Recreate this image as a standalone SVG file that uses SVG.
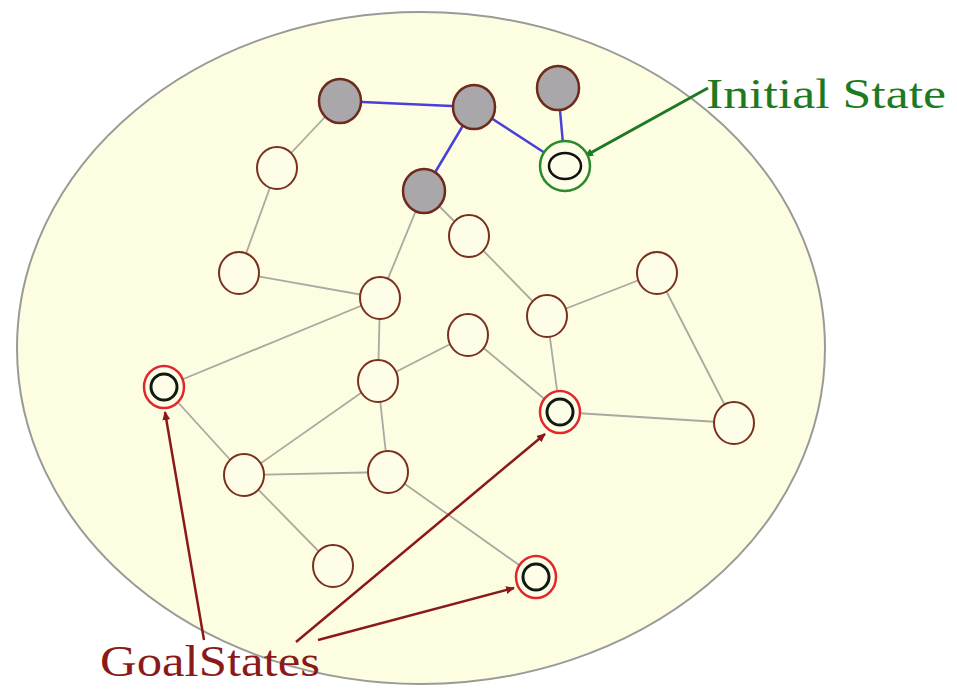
<svg xmlns="http://www.w3.org/2000/svg" width="957" height="689" viewBox="0 0 957 689">
  <style>
    .state { fill: #fefee8; stroke: #7a3020; stroke-width: 2; }
    .visited { fill: #a9a7aa; stroke: #6e2a1c; stroke-width: 2.5; }
    .edge { stroke: #aaa9a0; stroke-width: 1.8; fill: none; }
    .path { stroke: #4a40d8; stroke-width: 2.5; fill: none; }
    .goal-outer { fill: #fefee8; stroke: #e0282c; stroke-width: 2.5; }
    .goal-inner { fill: #fefee8; stroke: #101a10; stroke-width: 3; }
    .label { font-family: "Liberation Serif", "Times New Roman", serif; }
  </style>
  <defs>
    <marker id="arrowGreen" markerWidth="10" markerHeight="10" refX="8" refY="5" orient="auto" markerUnits="userSpaceOnUse">
      <path d="M0,1 L9,5 L0,9 Z" fill="#1e7a22"/>
    </marker>
    <marker id="arrowRed" markerWidth="10" markerHeight="10" refX="8" refY="5" orient="auto" markerUnits="userSpaceOnUse">
      <path d="M0,1 L9,5 L0,9 Z" fill="#8a1a1a"/>
    </marker>
  </defs>

  <!-- state space -->
  <ellipse id="space" cx="421" cy="348" rx="404" ry="336" fill="#fdfde2" stroke="#9a9a96" stroke-width="2"/>

  <g id="connectors">
    <line class="edge" x1="340" y1="101" x2="277" y2="168"/>
    <line class="edge" x1="277" y1="168" x2="239" y2="273"/>
    <line class="edge" x1="239" y1="273" x2="380" y2="298"/>
    <line class="edge" x1="424" y1="191" x2="380" y2="298"/>
    <line class="edge" x1="424" y1="191" x2="469" y2="236"/>
    <line class="edge" x1="469" y1="236" x2="547" y2="316"/>
    <line class="edge" x1="547" y1="316" x2="657" y2="273"/>
    <line class="edge" x1="657" y1="273" x2="734" y2="423"/>
    <line class="edge" x1="547" y1="316" x2="560" y2="412"/>
    <line class="edge" x1="560" y1="412" x2="734" y2="423"/>
    <line class="edge" x1="468" y1="335" x2="560" y2="412"/>
    <line class="edge" x1="468" y1="335" x2="378" y2="381"/>
    <line class="edge" x1="380" y1="298" x2="378" y2="381"/>
    <line class="edge" x1="380" y1="298" x2="164" y2="387"/>
    <line class="edge" x1="164" y1="387" x2="244" y2="475"/>
    <line class="edge" x1="244" y1="475" x2="378" y2="381"/>
    <line class="edge" x1="244" y1="475" x2="388" y2="472"/>
    <line class="edge" x1="378" y1="381" x2="388" y2="472"/>
    <line class="edge" x1="244" y1="475" x2="333" y2="566"/>
    <line class="edge" x1="388" y1="472" x2="536" y2="577"/>

    <line class="path" x1="340" y1="101" x2="474" y2="107"/>
    <line class="path" x1="474" y1="107" x2="424" y2="191"/>
    <line class="path" x1="474" y1="107" x2="565" y2="166"/>
    <line class="path" x1="558" y1="88" x2="565" y2="166"/>

    <line x1="708" y1="88" x2="585" y2="156" stroke="#1e7a22" stroke-width="3" marker-end="url(#arrowGreen)"/>
    <line x1="204" y1="640" x2="165" y2="412" stroke="#8a1a1a" stroke-width="2.5" marker-end="url(#arrowRed)"/>
    <line x1="296" y1="642" x2="545" y2="434" stroke="#8a1a1a" stroke-width="2.5" marker-end="url(#arrowRed)"/>
    <line x1="318" y1="640" x2="514" y2="588" stroke="#8a1a1a" stroke-width="2.5" marker-end="url(#arrowRed)"/>
  </g>

  <!-- explored states -->
  <g id="n-a"><ellipse class="visited" cx="340" cy="101" rx="21" ry="22"/></g>
  <g id="n-b"><ellipse class="visited" cx="474" cy="107" rx="21" ry="22"/></g>
  <g id="n-c"><ellipse class="visited" cx="558" cy="88" rx="21" ry="22"/></g>
  <g id="n-d"><ellipse class="visited" cx="424" cy="191" rx="21" ry="22"/></g>

  <!-- initial state -->
  <g id="n-initial">
    <ellipse cx="565" cy="166" rx="25" ry="25" fill="#fefee8" stroke="#2a8a2a" stroke-width="2.5"/>
    <ellipse cx="565" cy="166" rx="16" ry="13" fill="#fefee8" stroke="#111" stroke-width="2.5"/>
  </g>

  <!-- other states -->
  <g id="n-e"><ellipse class="state" cx="277" cy="168" rx="20" ry="21"/></g>
  <g id="n-f"><ellipse class="state" cx="469" cy="236" rx="20" ry="21"/></g>
  <g id="n-g"><ellipse class="state" cx="239" cy="273" rx="20" ry="21"/></g>
  <g id="n-h"><ellipse class="state" cx="380" cy="298" rx="20" ry="21"/></g>
  <g id="n-i"><ellipse class="state" cx="657" cy="273" rx="20" ry="21"/></g>
  <g id="n-j"><ellipse class="state" cx="547" cy="316" rx="20" ry="21"/></g>
  <g id="n-k"><ellipse class="state" cx="468" cy="335" rx="20" ry="21"/></g>
  <g id="n-l"><ellipse class="state" cx="378" cy="381" rx="20" ry="21"/></g>
  <g id="n-m"><ellipse class="state" cx="734" cy="423" rx="20" ry="21"/></g>
  <g id="n-n"><ellipse class="state" cx="244" cy="475" rx="20" ry="21"/></g>
  <g id="n-o"><ellipse class="state" cx="388" cy="472" rx="20" ry="21"/></g>
  <g id="n-p"><ellipse class="state" cx="333" cy="566" rx="20" ry="21"/></g>

  <!-- goal states -->
  <g id="n-goal1">
    <ellipse class="goal-outer" cx="164" cy="387" rx="20" ry="21"/>
    <ellipse class="goal-inner" cx="164" cy="387" rx="13" ry="13"/>
  </g>
  <g id="n-goal2">
    <ellipse class="goal-outer" cx="560" cy="412" rx="20" ry="21"/>
    <ellipse class="goal-inner" cx="560" cy="412" rx="13" ry="13"/>
  </g>
  <g id="n-goal3">
    <ellipse class="goal-outer" cx="536" cy="577" rx="20" ry="21"/>
    <ellipse class="goal-inner" cx="536" cy="577" rx="13" ry="13"/>
  </g>

  <!-- labels -->
  <text class="label" x="706" y="108" font-size="42" fill="#1e7a22" textLength="240" lengthAdjust="spacingAndGlyphs">Initial State</text>
  <text class="label" x="100" y="676" font-size="45" fill="#8a1a1a" textLength="220" lengthAdjust="spacingAndGlyphs">GoalStates</text>
</svg>
